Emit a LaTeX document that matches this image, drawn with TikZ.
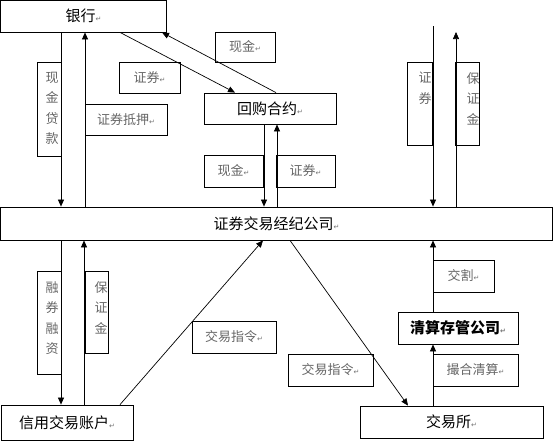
\documentclass[tikz,border=0pt]{standalone}
\usepackage{fontspec}
\newfontfamily\cjk{Noto Sans CJK SC}
\newfontfamily\dvs{DejaVu Sans}
\usetikzlibrary{arrows.meta}
\newcommand{\retmark}{{\dvs\fontsize{7}{7}\selectfont\textcolor{black!55}{↵}}}
\begin{document}
\begin{tikzpicture}[x=1pt,y=-1pt,
  box/.style={draw, line width=0.8pt, inner sep=0pt},
  mainbox/.style={box, font=\cjk\fontsize{15}{15}\selectfont},
  lab/.style={box, font=\cjk\fontsize{13}{13}\selectfont, text=black!60},
  vtext/.style={font=\cjk\fontsize{13}{20.5}\selectfont, text=black!60, align=center, inner sep=0pt, anchor=north},
  arr/.style={line width=0.7pt, -{Triangle[length=7pt,width=6pt]}},
  ln/.style={line width=0.7pt}]
\useasboundingbox (0,0) rectangle (553,442);
% main boxes
\node[mainbox, minimum width=166pt, minimum height=32pt] (bank) at (83.5,16) {银行\retmark};
\node[mainbox, minimum width=552pt, minimum height=33pt] (broker) at (276.5,223.5) {证券交易经纪公司\retmark};
\node[mainbox, minimum width=132pt, minimum height=31pt] (repo) at (270,108.5) {回购合约\retmark};
\node[mainbox, minimum width=132pt, minimum height=35pt] (acct) at (67,422.5) {信用交易账户\retmark};
\node[mainbox, minimum width=183pt, minimum height=32pt] (exch) at (451.5,422) {交易所\retmark};
\node[mainbox, minimum width=120pt, minimum height=32pt, font=\cjk\bfseries\fontsize{15}{15}\selectfont] (clear) at (458,328) {清算存管公司\retmark};
% labels
\node[lab, minimum width=24pt, minimum height=94pt] (L1) at (49,109) {};
\node[vtext] (T1) at (52,72) {现\\金\\贷\\款};
\node[lab, minimum width=82pt, minimum height=31pt] (L2) at (126,119.5) {证券抵押\retmark};
\node[lab, minimum width=61pt, minimum height=31pt] (L3) at (149.5,77.5) {证券\retmark};
\node[lab, minimum width=60pt, minimum height=30pt] (L4) at (245,47) {现金\retmark};
\node[lab, minimum width=59pt, minimum height=32pt] (L5) at (233.5,171) {现金\retmark};
\node[lab, minimum width=59pt, minimum height=32pt] (L6) at (305.5,171) {证券\retmark};
\node[lab, minimum width=25pt, minimum height=83pt] (L7) at (419.5,103.5) {};
\node[vtext] (T7) at (425,72) {证\\券};
\node[lab, minimum width=24pt, minimum height=83pt] (L8) at (467,103.5) {};
\node[vtext] (T8) at (473,72) {保\\证\\金};
\node[lab, minimum width=24pt, minimum height=103pt] (L9) at (49,322.5) {};
\node[vtext] (T9) at (52,281) {融\\券\\融\\资};
\node[lab, minimum width=23pt, minimum height=82pt] (L10) at (96.5,312) {};
\node[vtext] (T10) at (101,281) {保\\证\\金};
\node[lab, minimum width=84pt, minimum height=32pt] (L11) at (234,337) {交易指令\retmark};
\node[lab, minimum width=85pt, minimum height=32pt] (L12) at (330.5,370) {交易指令\retmark};
\node[lab, minimum width=61pt, minimum height=32pt] (L13) at (463.5,276) {交割\retmark};
\node[lab, minimum width=85pt, minimum height=32pt] (L14) at (475.5,370) {撮合清算\retmark};
% connectors
\draw[arr] (bank.south -| 61,0) -- (broker.north -| 61,0);
\draw[arr] (broker.north -| 85,0) -- (bank.south -| 85,0);
\draw[arr] (bank.south -| 120,0) -- (repo.north -| 235,0);
\draw[arr] (repo.north -| 276,0) -- (bank.south -| 162,0);
\draw[arr] (repo.south -| 264,0) -- (broker.north -| 264,0);
\draw[arr] (broker.north -| 277,0) -- (repo.south -| 277,0);
\coordinate (tr1) at (433,26);
\coordinate (tr2) at (456,32);
\draw[arr] (tr1) -- (broker.north -| tr1);
\draw[arr] (broker.north -| tr2) -- (tr2);
\draw[arr] (broker.south -| 61,0) -- (acct.north -| 61,0);
\draw[arr] (acct.north -| 84,0) -- (broker.south -| 84,0);
\draw[arr] (acct.north -| 120,0) -- (broker.south -| 263,0);
\draw[arr] (broker.south -| 290,0) -- (exch.north -| 408,0);
\draw[arr] (clear.north -| 433,0) -- (broker.south -| 433,0);
\draw[arr] (exch.north -| 433,0) -- (clear.south -| 433,0);
\end{tikzpicture}
\end{document}
